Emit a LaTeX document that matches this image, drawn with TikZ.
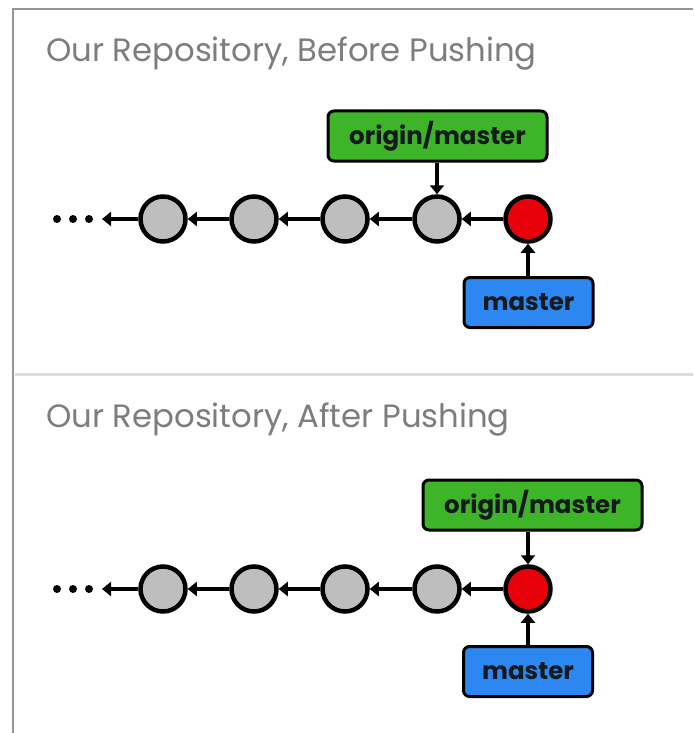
\documentclass[tikz,border=0pt]{standalone}
\usepackage{fontspec}
\setmainfont{Poppins}
\usetikzlibrary{arrows.meta}
\definecolor{framegray}{RGB}{150,150,150}
\definecolor{sepgray}{RGB}{221,221,221}
\definecolor{titlegray}{RGB}{125,125,125}
\definecolor{boxgreen}{RGB}{62,180,40}
\definecolor{boxblue}{RGB}{45,135,240}
\definecolor{commitred}{RGB}{232,0,10}
\definecolor{commitgray}{RGB}{190,190,190}
\definecolor{labeltext}{RGB}{20,25,30}
\tikzset{
  commit/.style={circle, draw=black, line width=4.5pt, minimum size=45pt, inner sep=0pt, fill=commitgray},
  headcommit/.style={commit, fill=commitred},
  labelbox/.style={draw=black, line width=3pt, rounded corners=6pt, minimum height=50pt, inner sep=0pt,
    text=labeltext, font=\fontsize{24.5}{28}\selectfont\bfseries},
  remotebox/.style={labelbox, fill=boxgreen, minimum width=219pt},
  localbox/.style={labelbox, fill=boxblue, minimum width=129pt},
  link/.style={line width=3.5pt, -{Triangle[length=9pt,width=14pt]}},
  title/.style={anchor=base west, inner sep=0pt, text=titlegray, font=\fontsize{32.3}{38}\selectfont},
  dot/.style={circle, fill=black, minimum size=8pt, inner sep=0pt}
}
\begin{document}
\begin{tikzpicture}[x=1pt,y=-1pt]
\useasboundingbox (0,0) rectangle (693,733);
\fill[white] (0,0) rectangle (693,733);
\draw[framegray, line width=2pt] (13,733) -- (13,9) -- (693,9);
\draw[sepgray, line width=3pt] (15,374) -- (693,374);

% ---------- Before pushing ----------
\node[title] (t1) at (46,62) {Our Repository, Before Pushing};
\node[dot] (d1a) at (57,219) {};
\node[dot] (d1b) at (73,219) {};
\node[dot] (d1c) at (89,219) {};
\coordinate (e1) at (102,219);
\node[commit] (a1) at (163,219) {};
\node[commit] (b1) at (254,219) {};
\node[commit] (c1) at (345,219) {};
\node[commit] (f1) at (437,219) {};
\node[headcommit] (h1) at (528,219) {};
\node[remotebox] (o1) at (437.5,136) {origin/master};
\node[localbox] (m1) at (528.5,302.5) {master};
\draw[link] (a1) -- (e1);
\draw[link] (b1) -- (a1);
\draw[link] (c1) -- (b1);
\draw[link] (f1) -- (c1);
\draw[link] (h1) -- (f1);
\draw[link] (o1.south -| f1) -- (f1);
\draw[link] (m1.north -| h1) -- (h1);

% ---------- After pushing ----------
\node[title] (t2) at (46,427) {Our Repository, After Pushing};
\node[dot] (d2a) at (57,589) {};
\node[dot] (d2b) at (73,589) {};
\node[dot] (d2c) at (89,589) {};
\coordinate (e2) at (102,589);
\node[commit] (a2) at (163,589) {};
\node[commit] (b2) at (254,589) {};
\node[commit] (c2) at (345,589) {};
\node[commit] (f2) at (437,589) {};
\node[headcommit] (h2) at (528,589) {};
\node[remotebox] (o2) at (532.5,505) {origin/master};
\node[localbox] (m2) at (528,671.5) {master};
\draw[link] (a2) -- (e2);
\draw[link] (b2) -- (a2);
\draw[link] (c2) -- (b2);
\draw[link] (f2) -- (c2);
\draw[link] (h2) -- (f2);
\draw[link] (o2.south -| h2) -- (h2);
\draw[link] (m2.north -| h2) -- (h2);
\end{tikzpicture}
\end{document}
